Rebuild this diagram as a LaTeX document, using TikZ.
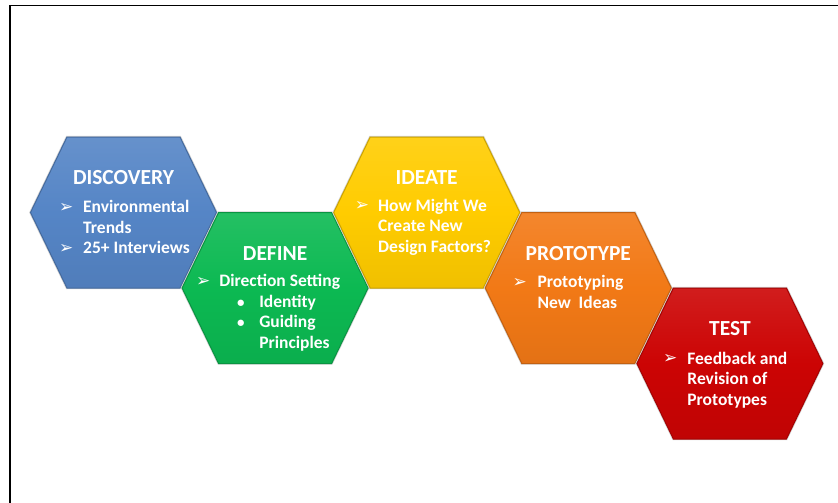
\documentclass[tikz,border=0pt]{standalone}
\usepackage{fontspec}
\setmainfont{Carlito}
\newfontfamily\dingfont{DejaVu Sans}
\usepackage{xcolor}
\usetikzlibrary{positioning,calc}

\definecolor{discoveryblue}{RGB}{85,133,198}
\definecolor{definegreen}{RGB}{12,185,82}
\definecolor{ideateyellow}{RGB}{255,204,0}
\definecolor{protoorange}{RGB}{242,121,22}
\definecolor{testred}{RGB}{204,4,4}

\newcommand{\arrowbullet}{\raisebox{0.5pt}{\dingfont\fontsize{17}{17}\selectfont ➢}}
\newcommand{\dotbullet}{{\fontsize{15}{15}\selectfont •}}
% one hexagon round a named centre
\newcommand{\hexcell}[2]{%
  \path[shift={(#1)}, hexshadow] (-93,0) -- (-56.5,-75.5) -- (56.5,-75.5) -- (93,0) -- (56.5,75.5) -- (-56.5,75.5) -- cycle;
  \path[shift={(#1)}, hexfill=#2] (-93,0) -- (-56.5,-75.5) -- (56.5,-75.5) -- (93,0) -- (56.5,75.5) -- (-56.5,75.5) -- cycle;}

\begin{document}
\begin{tikzpicture}[
    x=1pt, y=-1pt,
    hexshadow/.style={draw=black!18, line width=2.4pt},
    hexfill/.style={top color=#1!90!white, bottom color=#1!94!black, middle color=#1, draw=#1!80!black, line width=1pt},
    title/.style={text=white, inner sep=0pt, font=\fontsize{21.5}{24}\selectfont\bfseries},
    body/.style={text=white, inner sep=0pt, anchor=base west, font=\fontsize{17.5}{20.5}\selectfont\bfseries}
]
    \useasboundingbox (0,0) rectangle (838,503);
    \draw[line width=1.4pt] (10,503) -- (10,5.3) -- (838,5.3);

    \coordinate (discovery) at (123.5,212.5);
    \coordinate (define) at ($(discovery)+(151.6,75.5)$);
    \coordinate (ideate) at ($(define)+(151.6,-75.5)$);
    \coordinate (prototype) at ($(ideate)+(151.6,75.5)$);
    \coordinate (test) at ($(prototype)+(151.6,75.5)$);

    \hexcell{discovery}{discoveryblue}
    \hexcell{define}{definegreen}
    \hexcell{ideate}{ideateyellow}
    \hexcell{prototype}{protoorange}
    \hexcell{test}{testred}

    \node[title, above=28pt of discovery, anchor=base] (discoveryTitle) {DISCOVERY};
    \node[title, above=28pt of define, anchor=base] (defineTitle) {DEFINE};
    \node[title, above=28pt of ideate, anchor=base] (ideateTitle) {IDEATE};
    \node[title, above=28pt of prototype, anchor=base] (prototypeTitle) {PROTOTYPE};
    \node[title, above=28.5pt of test, anchor=base] (testTitle) {TEST};

    \node[body] (discoveryText) at ([shift={(-64.5,0.2)}]discovery)
        {\begin{tabular}[t]{@{}p{24pt}@{}l@{}}
         \arrowbullet & Environmental\\
                      & Trends\\
         \arrowbullet & 25+ Interviews
         \end{tabular}};
    \node[body] (defineText) at ([shift={(-79.3,-1.3)}]define)
        {\begin{tabular}[t]{@{}p{23.3pt}@{}l@{}}
         \arrowbullet & Direction Setting\\
                      & \hspace*{17.7pt}\makebox[22.3pt][l]{\dotbullet}Identity\\
                      & \hspace*{17.7pt}\makebox[22.3pt][l]{\dotbullet}Guiding\\
                      & \hspace*{40pt}Principles
         \end{tabular}};
    \node[body] (ideateText) at ([shift={(-72,-1.3)}]ideate)
        {\begin{tabular}[t]{@{}p{23.3pt}@{}l@{}}
         \arrowbullet & How Might We\\
                      & Create New\\
                      & Design Factors?
         \end{tabular}};
    \node[body] (prototypeText) at ([shift={(-66,-0.5)}]prototype)
        {\begin{tabular}[t]{@{}p{25pt}@{}l@{}}
         \arrowbullet & Prototyping\\
                      & New\ \ Ideas
         \end{tabular}};
    \node[body] (testText) at ([shift={(-67,0.7)}]test)
        {\begin{tabular}[t]{@{}p{24.3pt}@{}l@{}}
         \arrowbullet & Feedback and\\
                      & Revision of\\
                      & Prototypes
         \end{tabular}};
\end{tikzpicture}
\end{document}
